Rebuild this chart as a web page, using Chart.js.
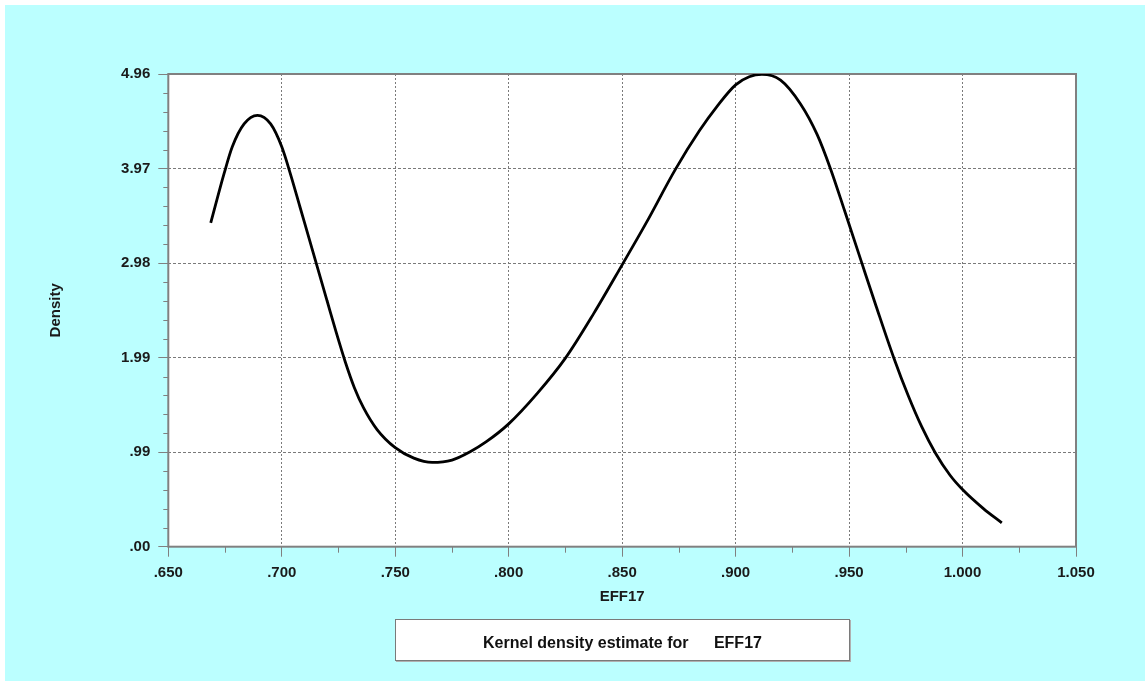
<!DOCTYPE html>
<html><head><meta charset="utf-8">
<script src="https://cdn.jsdelivr.net/npm/chart.js@4.4.1/dist/chart.umd.min.js"></script>
<style>
html,body{margin:0;padding:0;background:#fff;width:1145px;height:681px;overflow:hidden;}
#wrap{position:absolute;left:5px;top:5px;width:1140px;height:676px;background:#bbffff;}
#c{position:absolute;left:0;top:0;}
#legend{position:absolute;left:390px;top:614px;width:453px;height:40px;border:1px solid #7a7a7a;background:#fff;
  font:bold 16px "Liberation Sans",Arial,sans-serif;color:#111;text-align:center;line-height:40px;box-shadow:1px 1px 0 #b0b0b0;}
#legend span.t{position:relative;top:3px;}
#legend span.v{margin-left:21px;}
</style></head>
<body>
<div id="wrap">
<canvas id="c" width="1140" height="676"></canvas>
<div id="legend"><span class="t">Kernel density estimate for <span class="v">EFF17</span></span></div>
</div>
<script>
const xValues = [0.6687,0.6746,0.6782,0.6834,0.6893,0.6951,0.7000,0.7040,0.7080,0.7120,0.7160,0.7200,0.7240,0.7280,0.7320,0.7360,0.7420,0.7500,0.7582,0.7663,0.7750,0.7832,0.7900,0.8000,0.8126,0.8250,0.8375,0.8500,0.8606,0.8734,0.8841,0.8920,0.9000,0.9060,0.9116,0.9198,0.9286,0.9359,0.9418,0.9480,0.9556,0.9620,0.9696,0.9760,0.9820,0.9879,0.9945,1.0000,1.0092,1.0173];
const densityValues = [3.40,3.92,4.20,4.44,4.53,4.44,4.20,3.90,3.57,3.24,2.91,2.58,2.25,1.94,1.67,1.46,1.23,1.04,0.93,0.885,0.91,1.00,1.10,1.29,1.61,1.98,2.45,2.96,3.40,3.96,4.37,4.63,4.85,4.935,4.96,4.90,4.65,4.33,3.97,3.53,2.98,2.52,1.99,1.59,1.26,0.99,0.75,0.60,0.40,0.25];
const xTickValues = [0.65,0.70,0.75,0.80,0.85,0.90,0.95,1.00,1.05];
const xTickLabels = ['.650','.700','.750','.800','.850','.900','.950','1.000','1.050'];
const yTickValues = [0,0.9928,1.9856,2.9784,3.9712,4.964];
const yTickLabels = ['.00','.99','1.99','2.98','3.97','4.96'];
const xAxisTitle = 'EFF17';
const yAxisTitle = 'Density';

const points = xValues.map((x,i)=>({x:x,y:densityValues[i]}));
const FONT = {family:'"Liberation Sans", Arial, sans-serif', size:15, weight:'bold'};
const GRAY = '#808080';

const framePlugin = {
  id:'frame',
  beforeDraw(chart){
    const {ctx, chartArea:a} = chart;
    ctx.save(); ctx.fillStyle='#fff';
    ctx.fillRect(a.left,a.top,a.right-a.left,a.bottom-a.top);
    ctx.restore();
  },
  beforeDatasetsDraw(chart){
    const {ctx, chartArea:a, scales} = chart;
    ctx.save();
    ctx.strokeStyle = GRAY; ctx.lineWidth = 1;
    for(let i=0;i<yTickValues.length-1;i++){
      const v0=yTickValues[i], v1=yTickValues[i+1];
      for(let k=1;k<5;k++){
        const py = Math.round(scales.y.getPixelForValue(v0+(v1-v0)*k/5))+0.5;
        ctx.beginPath(); ctx.moveTo(a.left-5,py); ctx.lineTo(a.left,py); ctx.stroke();
      }
    }
    for(let i=0;i<xTickValues.length-1;i++){
      const px = Math.round(scales.x.getPixelForValue((xTickValues[i]+xTickValues[i+1])/2))+0.5;
      ctx.beginPath(); ctx.moveTo(px,a.bottom); ctx.lineTo(px,a.bottom+6); ctx.stroke();
    }
    ctx.lineWidth = 2;
    ctx.strokeRect(a.left,a.top,a.right-a.left,a.bottom-a.top);
    ctx.restore();
  }
};

new Chart(document.getElementById('c'), {
  type:'line',
  data:{datasets:[{data:points, borderColor:'#000', borderWidth:2.8, pointRadius:0, cubicInterpolationMode:'monotone', fill:false}]},
  options:{
    responsive:false, animation:false, devicePixelRatio:1, events:[],
    layout:{padding:{top:69,right:69,left:0,bottom:0}},
    plugins:{legend:{display:false}, tooltip:{enabled:false}},
    scales:{
      x:{type:'linear', min:0.65, max:1.05,
        afterBuildTicks(s){ s.ticks = xTickValues.map(v=>({value:v})); },
        afterFit(s){ s.height = 134.3; },
        ticks:{callback:(v,i)=>xTickLabels[i], font:FONT, color:'#1a1a1a', padding:7, maxRotation:0, autoSkip:false},
        grid:{color:(c)=> (c.index===0||c.index===xTickValues.length-1)?'rgba(0,0,0,0)':'#7a7a7a', lineWidth:1, tickLength:10, tickColor:GRAY, tickWidth:1},
        border:{display:false, dash:[2,2]},
        title:{display:true, text:xAxisTitle, font:FONT, color:'#1a1a1a', padding:{top:0,bottom:75.3}}
      },
      y:{type:'linear', min:0, max:4.964,
        afterBuildTicks(s){ s.ticks = yTickValues.map(v=>({value:v})); },
        afterFit(s){ s.width = 163.3; },
        ticks:{callback:(v,i)=>yTickLabels[i], font:FONT, color:'#1a1a1a', padding:8, autoSkip:false},
        grid:{color:(c)=> (c.index===0||c.index===yTickValues.length-1)?'rgba(0,0,0,0)':'#7a7a7a', lineWidth:1, tickLength:10, tickColor:GRAY, tickWidth:1},
        border:{display:false, dash:[3,2]},
        title:{display:true, text:yAxisTitle, font:FONT, color:'#1a1a1a', padding:{top:41.5,bottom:0}}
      }
    }
  },
  plugins:[framePlugin]
});
</script>
</body></html>
